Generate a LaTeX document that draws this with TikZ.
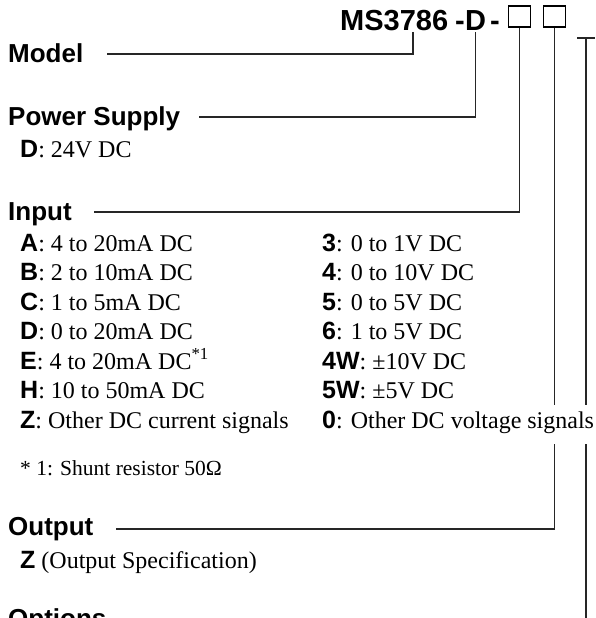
\documentclass[tikz,border=0pt]{standalone}
\usepackage{fontspec}
\setmainfont{Liberation Serif}
\setsansfont{Liberation Sans}
\newcommand\cd[1]{{\sffamily\bfseries\fontsize{25}{29}\selectfont #1}}
\tikzset{
  heading/.style={anchor=base west, inner sep=0pt, font=\sffamily\bfseries\fontsize{26}{30}\selectfont},
  item/.style={anchor=base west, inner sep=0pt, font=\fontsize{24}{29}\selectfont},
  small item/.style={anchor=base west, inner sep=0pt, font=\fontsize{21.5}{26}\selectfont},
  titletext/.style={anchor=base west, inner sep=0pt, font=\sffamily\bfseries\fontsize{29}{33}\selectfont},
  conn/.style={line width=1.1pt, draw=black!85},
  codebox/.style={draw=black, line width=1.8pt, minimum width=22pt, minimum height=21pt, inner sep=0pt},
}
\begin{document}
\begin{tikzpicture}[x=1pt,y=-1pt]
\useasboundingbox (0,0) rectangle (595,618);
\clip (0,0) rectangle (595,618);
% title
\node[titletext] (ms) at (340,31) {MS3786};
\node[titletext] (dash1) at (455,31) {-};
\node[titletext] (dcode) at (465,31) {D};
\node[titletext] (dash2) at (490,31) {-};
\node[codebox] (box1) at (519.5,16.5) {};
\node[codebox] (box2) at (554.5,16.5) {};
% headings
\node[heading] (model) at (8,63) {Model};
\node[heading] (power) at (8,125) {Power Supply};
\node[item] (pd) at (20,157) {\cd{D}: 24V DC};
\node[heading] (input) at (8,220) {Input};
% left column
\node[item] (ia) at (20,251) {\cd{A}: 4 to 20mA DC};
\node[item] (ib) at (20,280.5) {\cd{B}: 2 to 10mA DC};
\node[item] (ic) at (20,310) {\cd{C}: 1 to 5mA DC};
\node[item] (id) at (20,339.5) {\cd{D}: 0 to 20mA DC};
\node[item] (ie) at (20,369) {\cd{E}: 4 to 20mA DC\textsuperscript{*1}};
\node[item] (ih) at (20,398.5) {\cd{H}: 10 to 50mA DC};
\node[item] (iz) at (20,428) {\cd{Z}: Other DC current signals};
% right column
\node[item] (i3) at (322,251) {\cd{3}: 0 to 1V DC};
\node[item] (i4) at (322,280.5) {\cd{4}: 0 to 10V DC};
\node[item] (i5) at (322,310) {\cd{5}: 0 to 5V DC};
\node[item] (i6) at (322,339.5) {\cd{6}: 1 to 5V DC};
\node[item] (i4w) at (322,369) {\cd{4W}: ±10V DC};
\node[item] (i5w) at (322,398.5) {\cd{5W}: ±5V DC};
\node[item] (i0) at (322,428) {\cd{0}: Other DC voltage signals};
\node[small item] (shunt) at (20,475) {* 1: Shunt resistor 50Ω};
\node[heading] (output) at (8,535) {Output};
\node[item] (oz) at (20,568) {\cd{Z} (Output Specification)};
\node[heading] (options) at (8,627) {Options};
% connector points
\coordinate (mtap) at (413,32);
\coordinate (g1a) at (box2.south |- 0,405);
\coordinate (g1b) at (box2.south |- 0,444);
\coordinate (tl) at (577,38);
\coordinate (tr) at (595,38);
\coordinate (tm) at (586,38);
\coordinate (g2a) at (586,405);
\coordinate (g2b) at (586,444);
\coordinate (rend) at (586,620);
% connectors
\draw[conn] (mtap) |- ([xshift=23pt,yshift=9pt]model.base east);
\draw[conn] ([yshift=-1pt]dcode.south) |- ([xshift=19pt,yshift=8pt]power.base east);
\draw[conn] (box1.south) |- ([xshift=22pt,yshift=8pt]input.base east);
\draw[conn] (box2.south) -- (g1a);
\draw[conn] (g1b) |- ([xshift=22pt,yshift=6pt]output.base east);
\draw[conn] (tl) -- (tr);
\draw[conn] (tm) -- (g2a);
\draw[conn] (g2b) -- (rend);
\end{tikzpicture}
\end{document}
